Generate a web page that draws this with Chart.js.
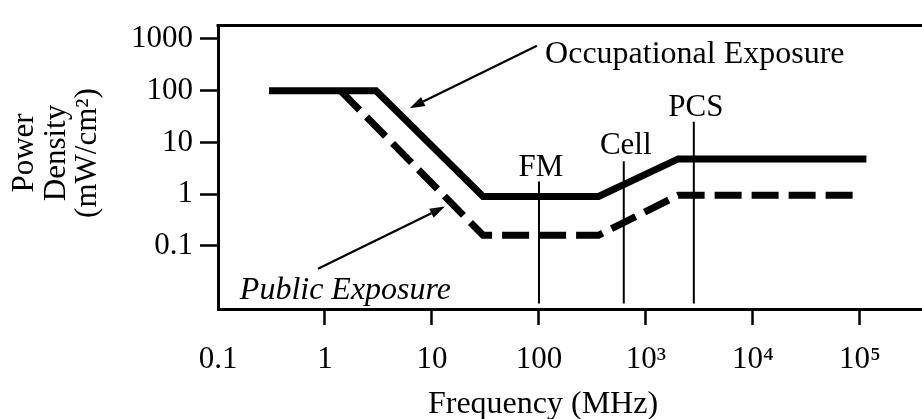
<!DOCTYPE html>
<html>
<head>
<meta charset="utf-8">
<script src="https://cdn.jsdelivr.net/npm/chart.js@4/dist/chart.umd.min.js"></script>
<style>
  html, body { margin: 0; padding: 0; background: #fff; overflow: hidden; }
  #wrap { width: 922px; height: 419px; position: relative; }
</style>
</head>
<body>
<div id="wrap"><canvas id="c"></canvas></div>
<script>
// ---- data ----
const occupationalFreq  = [0.3, 3, 30, 360, 2000, 115000];   // MHz
const occupationalPower = [100, 100, 0.9, 0.9, 4.8, 4.8];      // mW/cm^2
const publicFreq  = [1.4, 30, 360, 2000, 105000];
const publicPower = [100, 0.16, 0.16, 0.95, 0.95];
const bandNames = ['FM', 'Cell', 'PCS'];
const bandFreq  = [100, 620, 2800];
const bandTop   = [1.75, 4.3, 25];
const bandBottom = 0.0077;
const bandLabelY = [2.25, 6.0, 33];
const xTickValues = [0.1, 1, 10, 100, 1000, 10000, 100000];
const xTickLabels = ['0.1', '1', '10', '100', '10\u00B3', '10\u2074', '10\u2075'];
const yTickValues = [0.1, 1, 10, 100, 1000];
const yTickLabels = ['0.1', '1', '10', '100', '1000'];
const yTitleLines = ['Power', 'Density', '(mW/cm\u00B2)'];
const xTitle = 'Frequency (MHz)';
const occLabel = 'Occupational Exposure';
const pubLabel = 'Public Exposure';
// annotation anchors in data space (frequency, power)
const occLabelAt = [114, 344];
const pubLabelAt = [0.16, 0.0092];
const occArrow = [[95.7, 742], [6.2, 46]];
const pubArrow = [[0.86, 0.036], [13.2, 0.574]];

const FONT = '"Liberation Serif", "Times New Roman", serif';

const toPts = (xs, ys) => xs.map((x, i) => ({x: x, y: ys[i]}));

const datasets = [];
bandFreq.forEach((f, i) => {
  datasets.push({
    label: bandNames[i],
    data: [{x: f, y: bandBottom}, {x: f, y: bandTop[i]}],
    borderColor: '#000', borderWidth: 2, pointRadius: 0, tension: 0, fill: false
  });
});
datasets.push({
  label: 'Occupational Exposure',
  data: toPts(occupationalFreq, occupationalPower),
  borderColor: '#000', borderWidth: 7, pointRadius: 0, tension: 0, fill: false,
  borderJoinStyle: 'miter', borderCapStyle: 'butt'
});
datasets.push({
  label: 'Public Exposure',
  data: toPts(publicFreq, publicPower),
  borderColor: '#000', borderWidth: 7, pointRadius: 0, tension: 0, fill: false,
  borderDash: [27, 10], borderJoinStyle: 'miter', borderCapStyle: 'butt'
});

function arrow(ctx, x1, y1, x2, y2) {
  const ang = Math.atan2(y2 - y1, x2 - x1);
  const hl = 15, hw = 5;
  const bx = x2 - hl * Math.cos(ang), by = y2 - hl * Math.sin(ang);
  ctx.beginPath();
  ctx.moveTo(x1, y1);
  ctx.lineTo(bx, by);
  ctx.lineWidth = 2.2;
  ctx.strokeStyle = '#000';
  ctx.stroke();
  ctx.beginPath();
  ctx.moveTo(x2, y2);
  ctx.lineTo(bx + hw * Math.sin(ang), by - hw * Math.cos(ang));
  ctx.lineTo(bx - hw * Math.sin(ang), by + hw * Math.cos(ang));
  ctx.closePath();
  ctx.fillStyle = '#000';
  ctx.fill();
}

const decor = {
  id: 'decor',
  afterDraw(chart) {
    const ctx = chart.ctx, a = chart.chartArea;
    const xs = chart.scales.x, ys = chart.scales.y;
    const px = v => xs.getPixelForValue(v), py = v => ys.getPixelForValue(v);
    ctx.save();
    // top frame line
    ctx.beginPath();
    ctx.moveTo(a.left - 1.5, a.top);
    ctx.lineTo(chart.width, a.top);
    ctx.lineWidth = 3; ctx.strokeStyle = '#000'; ctx.stroke();

    ctx.fillStyle = '#000';
    ctx.font = '31px ' + FONT;
    ctx.textBaseline = 'alphabetic';
    // band labels
    ctx.textAlign = 'center';
    bandNames.forEach((n, i) => ctx.fillText(n, px(bandFreq[i]) + 2, py(bandLabelY[i])));
    // occupational label + arrow
    ctx.font = '32px ' + FONT;
    ctx.textAlign = 'left';
    ctx.fillText(occLabel, px(occLabelAt[0]), py(occLabelAt[1]));
    arrow(ctx, px(occArrow[0][0]), py(occArrow[0][1]), px(occArrow[1][0]), py(occArrow[1][1]));
    // public label + arrow
    ctx.font = 'italic 32px ' + FONT;
    ctx.fillText(pubLabel, px(pubLabelAt[0]), py(pubLabelAt[1]));
    arrow(ctx, px(pubArrow[0][0]), py(pubArrow[0][1]), px(pubArrow[1][0]), py(pubArrow[1][1]));
    // axis titles
    ctx.font = '32px ' + FONT;
    ctx.textAlign = 'center';
    ctx.fillText(xTitle, 543, 413);
    ctx.font = '31px ' + FONT;
    const baseX = [33, 65, 96];
    yTitleLines.forEach((t, i) => {
      ctx.save();
      ctx.translate(baseX[i], 153);
      ctx.rotate(-Math.PI / 2);
      ctx.fillText(t, 0, 0);
      ctx.restore();
    });
    ctx.restore();
  }
};

new Chart(document.getElementById('c'), {
  type: 'line',
  data: { datasets: datasets },
  options: {
    responsive: true,
    maintainAspectRatio: false,
    animation: false,
    events: [],
    layout: { padding: { top: 13, right: 0, left: 0, bottom: 0 } },
    plugins: { legend: { display: false }, tooltip: { enabled: false }, title: { display: false } },
    scales: {
      x: {
        type: 'logarithmic',
        min: 0.1, max: 380000,
        afterBuildTicks: s => { s.ticks = xTickValues.map(v => ({value: v})); },
        afterFit: s => { s.height = 110; },
        ticks: {
          autoSkip: false, maxRotation: 0, minRotation: 0, padding: 16,
          color: '#000', font: { family: FONT, size: 31 },
          callback: v => { const i = xTickValues.indexOf(v); return i >= 0 ? xTickLabels[i] : ''; }
        },
        grid: {
          drawOnChartArea: false, drawTicks: true, tickLength: 16, tickWidth: 2.5,
          tickColor: c => (c.tick && c.tick.value === 0.1) ? 'rgba(0,0,0,0)' : '#000'
        },
        border: { display: true, color: '#000', width: 3 },
        title: { display: false }
      },
      y: {
        type: 'logarithmic',
        min: 0.006, max: 1815,
        afterBuildTicks: s => { s.ticks = yTickValues.map(v => ({value: v})); },
        afterFit: s => { s.width = 218; },
        ticks: {
          autoSkip: false, padding: 7,
          color: '#000', font: { family: FONT, size: 31 },
          callback: v => { const i = yTickValues.indexOf(v); return i >= 0 ? yTickLabels[i] : ''; }
        },
        grid: {
          drawOnChartArea: false, drawTicks: true, tickLength: 18, tickWidth: 2.5, tickColor: '#000'
        },
        border: { display: true, color: '#000', width: 3 },
        title: { display: false }
      }
    }
  },
  plugins: [decor]
});
</script>
</body>
</html>
